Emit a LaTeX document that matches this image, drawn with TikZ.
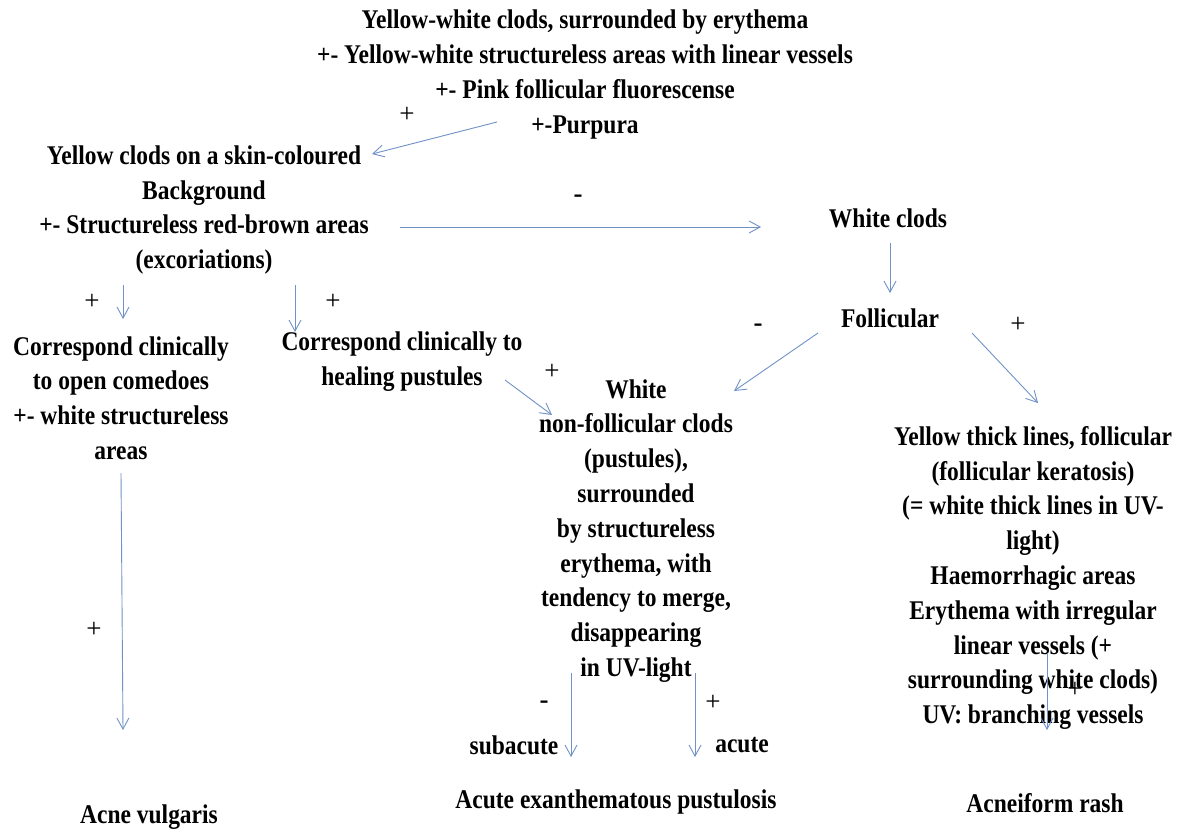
\documentclass[tikz,border=0pt]{standalone}
\usepackage{fontspec}
\setmainfont{Liberation Serif}
\newfontfamily\clodfont{Liberation Serif}[FakeStretch=0.87]
\usetikzlibrary{arrows.meta}
\definecolor{linkblue}{RGB}{112,146,198}
\tikzset{
  dx node/.style={align=center,inner sep=0pt,
    font=\clodfont\bfseries\fontsize{27}{34.8}\selectfont},
  dx sign/.style={inner sep=0pt,font=\fontsize{27}{30}\selectfont},
  dx minus/.style={inner sep=0pt,font=\bfseries\fontsize{27}{30}\selectfont},
  dx link/.style={linkblue,line width=0.9pt,
    -{Straight Barb[length=11pt,width=12pt]}}
}

\begin{document}
\begin{tikzpicture}[x=1pt,y=-1pt]
  \fill[white] (0,0) rectangle (1182,832);
  \useasboundingbox (0,0) rectangle (1182,832);
  % findings
  \node[dx node] (top) at (585,74.5) {Yellow-white clods, surrounded by erythema\\
    +- Yellow-white structureless areas with linear vessels\\
    +- Pink follicular fluorescense\\ +-Purpura};
  \node[dx node] (yclods) at (204,210) {Yellow clods on a skin-coloured\\ Background\\
    +- Structureless red-brown areas\\ (excoriations)};
  \node[dx node] (wclods) at (888,218) {White clods};
  \node[dx node] (foll) at (890,318) {Follicular};
  \node[dx node] (comed) at (121,398) {Correspond clinically\\ to open comedoes\\
    +- white structureless\\ areas};
  \node[dx node] (heal) at (402,362) {Correspond clinically to\\ healing pustules};
  \node[dx node] (pust) at (636,531) {White\\ non-follicular clods\\ (pustules),\\
    surrounded\\ by structureless\\ erythema, with\\ tendency to merge,\\
    disappearing\\ in UV-light};
  \node[dx node] (kera) at (1033,578) {Yellow thick lines, follicular\\
    (follicular keratosis)\\ (= white thick lines in UV-\\ light)\\
    Haemorrhagic areas\\ Erythema with irregular\\ linear vessels (+\\
    surrounding white clods)\\ UV: branching vessels};
  \node[dx node] (subac) at (514,745) {subacute};
  \node[dx node] (acute) at (742,745) {acute};
  % diagnoses
  \node[dx node] (acne) at (149,817) {Acne vulgaris};
  \node[dx node] (agep) at (616,802) {Acute exanthematous pustulosis};
  \node[dx node] (rash) at (1045,803) {Acneiform rash};
  % signs
  \node[dx sign] (s1) at (407,115) {+};
  \node[dx minus] (s2) at (578,199) {-};
  \node[dx sign] (s3) at (92,302) {+};
  \node[dx sign] (s4) at (333,302) {+};
  \node[dx minus] (s5) at (758,328) {-};
  \node[dx sign] (s6) at (1018,325) {+};
  \node[dx sign] (s7) at (552,372) {+};
  \node[dx sign] (s8) at (94,630) {+};
  \node[dx minus] (s9) at (544,705) {-};
  \node[dx sign] (s10) at (713,703) {+};
  \node[dx sign] (s11) at (1075,690) {+};
  % links
  \draw[dx link] ([xshift=-88pt,yshift=-47.5pt]top.center)
    -- ([xshift=168pt,yshift=56pt]yclods.center);
  \draw[dx link] ([xshift=196pt,yshift=-17pt]yclods.center)
    -- ([xshift=-127pt,yshift=-9pt]wclods.center);
  \draw[dx link] ([xshift=2pt,yshift=-25pt]wclods.center)
    -- ([xshift=0pt,yshift=25pt]foll.center);
  \draw[dx link] ([xshift=-72pt,yshift=-15pt]foll.center)
    -- ([xshift=98pt,yshift=140pt]pust.center);
  \draw[dx link] ([xshift=82pt,yshift=-15pt]foll.center)
    -- ([xshift=5pt,yshift=175pt]kera.center);
  \draw[dx link] ([xshift=-81pt,yshift=-75pt]yclods.center)
    -- ([xshift=2pt,yshift=79pt]comed.center);
  \draw[dx link] ([xshift=91pt,yshift=-75pt]yclods.center)
    -- ([xshift=-107pt,yshift=30pt]heal.center);
  \draw[dx link] ([xshift=103pt,yshift=-18pt]heal.center)
    -- ([xshift=-84pt,yshift=116pt]pust.center);
  \draw[dx link] ([xshift=0pt,yshift=-75pt]comed.center)
    -- ([xshift=-26pt,yshift=87pt]acne.center);
  \draw[dx link] ([xshift=-65pt,yshift=-142pt]pust.center)
    -- ([xshift=57pt,yshift=-12pt]subac.center);
  \draw[dx link] ([xshift=59pt,yshift=-142pt]pust.center)
    -- ([xshift=-47pt,yshift=-12pt]acute.center);
  \draw[dx link] ([xshift=14pt,yshift=-75pt]kera.center)
    -- ([xshift=2pt,yshift=73pt]rash.center);
\end{tikzpicture}
\end{document}
